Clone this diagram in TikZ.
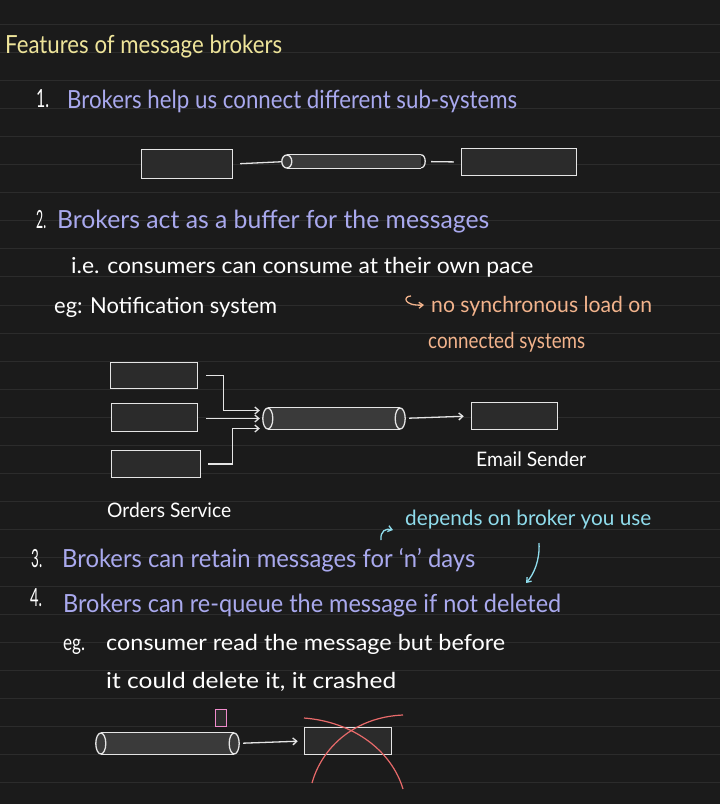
\documentclass[tikz,border=0pt]{standalone}
\usepackage{fontspec}
\setmainfont{Lato}
\usepackage{xcolor}
\usepackage{graphicx}
\usetikzlibrary{arrows.meta,calc}

\definecolor{pagebg}{HTML}{1B1B1B}
\definecolor{ruleline}{HTML}{2C2C2C}
\definecolor{boxfill}{HTML}{2B2B2B}
\definecolor{pipefill}{HTML}{3A3A3A}
\definecolor{titleyellow}{HTML}{EEE49A}
\definecolor{lavender}{HTML}{A9A9EE}
\definecolor{peach}{HTML}{F2B38C}
\definecolor{skyblue}{HTML}{8FDCEC}
\definecolor{pinkish}{HTML}{F08CCC}
\definecolor{crossred}{HTML}{E86A6A}

% squeeze a text to a given width, keep its height
\newcommand{\fitw}[2]{\resizebox{#1}{\height}{#2}}

\begin{document}
\begin{tikzpicture}[x=1pt, y=-1pt,
    txt/.style={anchor=base west, inner sep=0pt, text=white, font=\fontsize{22}{25}\selectfont},
    big/.style={txt, font=\fontsize{25}{28}\selectfont},
    lbl/.style={txt, font=\fontsize{20}{23}\selectfont},
    box/.style={draw=white!90!black, line width=1.5pt, fill=boxfill, inner sep=0pt},
    pipe/.style={fill=pipefill, inner sep=0pt},
    link/.style={draw=white!90!black, line width=1.3pt},
    flow/.style={link, -{Straight Barb[length=4pt,width=7pt]}},
    note/.style={line width=1.3pt, -{Straight Barb[length=4pt,width=6pt]}},
    cross/.style={draw=crossred, line width=1.2pt}]

    % Page and ruled lines
    \useasboundingbox (0,0) rectangle (720,804);
    \fill[pagebg] (0,0) rectangle (720,804);
    \foreach \k in {0,...,27}
        \draw[ruleline, line width=1pt] (0,{24+28.1*\k}) -- (720,{24+28.1*\k});

    % Title
    \node[big, text=titleyellow] (title) at (5,53) {\fitw{277pt}{Features of message brokers}};

    % 1. connect sub-systems
    \node[big] (n1) at (36,107) {\fitw{13pt}{1.}};
    \node[big, text=lavender] (t1) at (67,108) {\fitw{450pt}{Brokers help us connect different sub-systems}};

    \node[box, minimum width=91pt, minimum height=29pt] (src) at (187,164) {};
    \node[pipe, minimum width=134pt, minimum height=13pt] (q1) at (354,161.5) {};
    \node[box, minimum width=115pt, minimum height=27pt] (dst) at (519,162) {};
    \draw[link] (q1.north west) -- (q1.north east) (q1.south west) -- (q1.south east);
    \draw[link, fill=pipefill] (q1.west) ellipse [x radius=5pt, y radius=6.5pt];
    \draw[link] (q1.north east) arc [start angle=90, end angle=-90, x radius=4pt, y radius=6.5pt];
    \draw[link, shorten <=7pt, shorten >=5pt] (src.east) -- (q1.west);
    \draw[link, shorten <=10pt, shorten >=7pt] (q1.east) -- (dst.west);

    % 2. buffer
    \node[big] (n2) at (36,228) {\fitw{10pt}{2.}};
    \node[big, text=lavender] (t2) at (57,228) {\fitw{432pt}{Brokers act as a buffer for the messages}};
    \node[txt] (t2a) at (71,273) {\fitw{462pt}{i.e. consumers can consume at their own pace}};
    \node[txt] (t2b) at (54,313) {\fitw{223pt}{eg: Notification system}};
    \node[txt, text=peach] (t2c) at (431,312) {\fitw{221pt}{no synchronous load on}};
    \node[txt, text=peach] (t2d) at (428,348) {\fitw{157pt}{connected systems}};
    \draw[note, peach] (411,296) .. controls (403,296) and (403,306) .. (424,305);

    \node[box, minimum width=87pt, minimum height=26pt] (ordA) at (154,375.5) {};
    \node[box, minimum width=86pt, minimum height=28pt] (ordB) at (154.5,417.5) {};
    \node[box, minimum width=89pt, minimum height=27pt] (ordC) at (156,464) {};
    \node[pipe, minimum width=132pt, minimum height=21pt] (q2) at (334,418.5) {};
    \node[box, minimum width=86pt, minimum height=27pt] (email) at (514.5,416) {};
    \draw[link] (q2.north west) -- (q2.north east) (q2.south west) -- (q2.south east);
    \draw[link, fill=pipefill] (q2.west) ellipse [x radius=5pt, y radius=10.5pt];
    \draw[link, fill=pipefill] (q2.east) ellipse [x radius=5pt, y radius=10.5pt];

    \draw[flow, shorten <=8pt, shorten >=8pt] (ordA.east) -- ++(25,0) |- ([yshift=8pt]q2.west);
    \draw[flow, shorten <=8pt, shorten >=8pt] (ordB.east |- q2.west) -- (q2.west);
    \draw[flow, shorten <=7pt, shorten >=8pt] (ordC.east) -- ++(31,0) |- ([yshift=-10pt]q2.west);
    \draw[flow, shorten <=9pt, shorten >=7pt] (q2.east) -- (email.west);

    \node[lbl] (emaillbl) at (476,466) {\fitw{110pt}{Email Sender}};
    \node[lbl] (orderslbl) at (107,517) {\fitw{124pt}{Orders Service}};

    % Side note
    \node[txt, text=skyblue, font=\fontsize{21}{24}\selectfont] (dep) at (405,525) {\fitw{246pt}{depends on broker you use}};
    \draw[note, skyblue] (381,540) .. controls (380,531) and (386,528) .. (393,530);
    \draw[note, skyblue] (539,543) .. controls (540,560) and (534,574) .. (526,583);

    % 3. and 4.
    \node[big] (n3) at (31,567) {\fitw{11pt}{3.}};
    \node[big, text=lavender] (t3) at (62,567) {\fitw{413pt}{Brokers can retain messages for ‘n’ days}};
    \node[big] (n4) at (30,606) {\fitw{12pt}{4.}};
    \node[big, text=lavender] (t4) at (63,612) {\fitw{498pt}{Brokers can re-queue the message if not deleted}};
    \node[txt] (t4a) at (63,650) {\fitw{22pt}{eg.}};
    \node[txt] (t4b) at (106,650) {\fitw{399pt}{consumer read the message but before}};
    \node[txt] (t4c) at (106,688) {\fitw{290pt}{it could delete it, it crashed}};

    % Crashed consumer
    \node[pipe, minimum width=133pt, minimum height=21pt] (q3) at (167.5,743.5) {};
    \draw[link] (q3.north west) -- (q3.north east) (q3.south west) -- (q3.south east);
    \draw[link, fill=pipefill] (q3.west) ellipse [x radius=5pt, y radius=10.5pt];
    \draw[link, fill=pipefill] (q3.east) ellipse [x radius=5pt, y radius=10.5pt];
    \node[draw=pinkish, line width=1.3pt, fill=boxfill, inner sep=0pt, minimum width=11pt, minimum height=17pt] (msg) at (221,718) {};
    \node[box, minimum width=87pt, minimum height=27pt] (consumer) at (348,741) {};
    \draw[flow, shorten <=9pt, shorten >=6pt] (q3.east) -- (consumer.west);
    \draw[cross] (304,718) .. controls (355,722) and (392,752) .. (403,789);
    \draw[cross] (312,783) .. controls (322,747) and (355,717) .. (403,715);
\end{tikzpicture}
\end{document}
